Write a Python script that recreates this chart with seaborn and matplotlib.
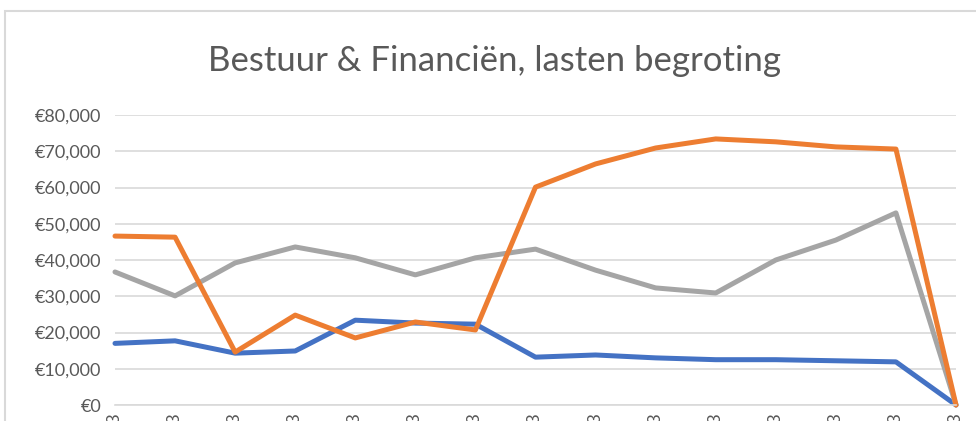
import numpy as np
import pandas as pd
import matplotlib
matplotlib.use("Agg")
import matplotlib.pyplot as plt
from matplotlib.patches import Rectangle
from matplotlib.ticker import FuncFormatter
import seaborn as sns

# categories (labels are cut off in the original, only the last digit shows)
periods = ["P%02d 2023" % i for i in range(1, 16)]

# values in euro
series_blue = [17000, 17700, 14300, 14900, 23400, 22600, 22300, 13200, 13800,
               13000, 12500, 12500, 12200, 11900, 0]
series_orange = [46600, 46300, 14600, 24800, 18500, 22900, 20700, 60100, 66500,
                 70900, 73400, 72600, 71200, 70600, 0]
series_gray = [36700, 30100, 39200, 43600, 40600, 35900, 40600, 43000, 37200,
               32300, 30900, 40000, 45500, 53000, 0]

names = ["blue", "orange", "gray"]
colors = {"blue": "#4472C4", "orange": "#ED7D31", "gray": "#A5A5A5"}

df = pd.DataFrame({
    "idx": list(range(len(periods))) * 3,
    "value": series_blue + series_orange + series_gray,
    "serie": np.repeat(names, len(periods)),
})

sns.set_theme(style="white")
plt.rcParams["font.family"] = ["Lato", "DejaVu Sans"]

fig = plt.figure(figsize=(9.76, 4.21), dpi=100)
ax = fig.add_axes([115 / 976, 16 / 421, (956 - 115) / 976, (405 - 115) / 421])

# chart border (cropped at right and bottom in the original)
fig.patches.append(Rectangle((5 / 976, -0.1), 1.2, 1 - 11 / 421 + 0.1,
                             transform=fig.transFigure, fill=False,
                             edgecolor="#D9D9D9", linewidth=1.5))

# orange is drawn on top of the others
sns.lineplot(data=df, x="idx", y="value", hue="serie", palette=colors,
             hue_order=["blue", "gray", "orange"], sort=False,
             linewidth=3.6, legend=False, ax=ax, clip_on=False)

ax.set_xlim(0, len(periods) - 1)
ax.set_ylim(0, 80000)
ax.set_yticks(np.arange(0, 80001, 10000))
ax.yaxis.set_major_formatter(FuncFormatter(lambda v, p: "\u20ac{:,.0f}".format(v)))
ax.set_xticks(range(len(periods)))
ax.set_xticklabels(periods, rotation=90, va="top", ha="center")
ax.grid(axis="y", color="#D9D9D9", linewidth=1.2)
ax.set_axisbelow(True)
for s in ["top", "right", "left"]:
    ax.spines[s].set_visible(False)
ax.spines["bottom"].set_color("#D9D9D9")
ax.spines["bottom"].set_linewidth(1.2)
ax.tick_params(axis="y", labelsize=13, labelcolor="#595959", pad=10, length=0)
ax.tick_params(axis="x", labelsize=13, labelcolor="#595959", pad=6, length=0)
ax.set_xlabel("")
ax.set_ylabel("")

fig.text(495 / 976, 1 - 61 / 421, "Bestuur & Financiën, lasten begroting",
         ha="center", va="center", fontsize=25, color="#595959")

fig.savefig("out.png", dpi=100)
